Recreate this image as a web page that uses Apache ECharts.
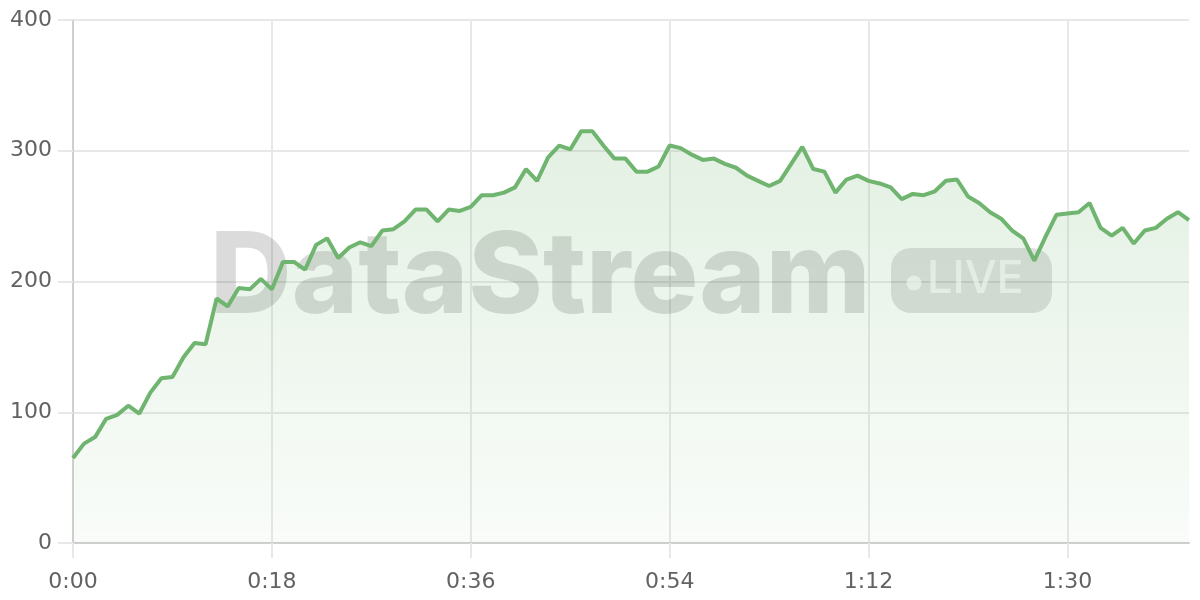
<!DOCTYPE html>
<html>
<head>
<meta charset="utf-8">
<script src="https://cdn.jsdelivr.net/npm/echarts@6/dist/echarts.min.js"></script>
<style>
html,body{margin:0;padding:0;background:#fff;}
#chart{width:1200px;height:600px;}
</style>
</head>
<body>
<div id="chart"></div>
<script>
// seconds 0..101, one reading per second
const values = [
  65, 76, 81, 95, 98, 105, 99, 115, 126, 127,
  142, 153, 152, 187, 181, 195, 194, 202, 194, 215,
  215, 209, 228, 233, 218, 226, 230, 227, 239, 240,
  246, 255, 255, 246, 255, 254, 257, 266, 266, 268,
  272, 286, 277, 295, 304, 301, 315, 315, 304, 294,
  294, 284, 284, 288, 304, 302, 297, 293, 294, 290,
  287, 281, 277, 273, 277, 290, 303, 286, 284, 268,
  278, 281, 277, 275, 272, 263, 267, 266, 269, 277,
  278, 265, 260, 253, 248, 239, 233, 216, 234, 251,
  252, 253, 260, 241, 235, 241, 229, 239, 241, 248,
  253, 247
];
const categories = values.map(function (_, i) {
  const m = Math.floor(i / 60), s = i % 60;
  return m + ':' + (s < 10 ? '0' + s : s);
});
const yRange = [0, 400];
const yStep = 100;
const xLabelEvery = 18;
const watermarkText = 'DataStream';
const badgeText = 'LIVE';

const chart = echarts.init(document.getElementById('chart'), null, {renderer: 'canvas'});
const labelFont = {color: '#626262', fontSize: 22, fontFamily: 'DejaVu Sans'};

chart.setOption({
  animation: false,
  grid: {left: 73, right: 11, top: 20, bottom: 57, containLabel: false},
  xAxis: {
    type: 'category',
    data: categories,
    boundaryGap: false,
    axisLine: {show: true, lineStyle: {color: '#cfcfcf', width: 2}},
    axisTick: {show: true, interval: xLabelEvery - 1, length: 15, lineStyle: {color: '#e8e8e8', width: 2}},
    axisLabel: Object.assign({interval: xLabelEvery - 1, margin: 28}, labelFont),
    splitLine: {show: true, interval: xLabelEvery - 1, lineStyle: {color: '#e8e8e8', width: 2}}
  },
  yAxis: {
    type: 'value',
    min: yRange[0], max: yRange[1], interval: yStep,
    axisLine: {show: true, lineStyle: {color: '#cfcfcf', width: 2}},
    axisTick: {show: true, length: 15, lineStyle: {color: '#e8e8e8', width: 2}},
    axisLabel: Object.assign({margin: 21}, labelFont),
    splitLine: {show: true, lineStyle: {color: '#e8e8e8', width: 2}}
  },
  graphic: [
    {
      type: 'text', z: 1, silent: true,
      left: 210, top: 223,
      style: {
        text: watermarkText,
        font: '800 113px Inter',
        fill: 'rgba(0,0,0,0.14)'
      }
    },
    {
      type: 'rect', z: 1, silent: true,
      shape: {x: 891, y: 248, width: 161, height: 65, r: 20},
      style: {fill: 'rgba(0,0,0,0.12)'}
    },
    {
      type: 'circle', z: 1, silent: true,
      shape: {cx: 914, cy: 283, r: 7.5},
      style: {fill: 'rgba(255,255,255,0.7)'}
    },
    {
      type: 'text', z: 1, silent: true,
      left: 927, top: 257,
      style: {
        text: badgeText,
        font: '500 45px Inter',
        fill: 'rgba(255,255,255,0.7)'
      }
    }
  ],
  series: [{
    type: 'line',
    data: values,
    showSymbol: false,
    smooth: false,
    z: 3,
    lineStyle: {color: '#6fb46f', width: 4},
    itemStyle: {color: '#6fb46f'},
    areaStyle: {
      color: new echarts.graphic.LinearGradient(0, 0, 0, 1, [
        {offset: 0, color: 'rgba(111,180,111,0.28)'},
        {offset: 1, color: 'rgba(111,180,111,0.06)'}
      ])
    }
  }]
});
</script>
</body>
</html>
